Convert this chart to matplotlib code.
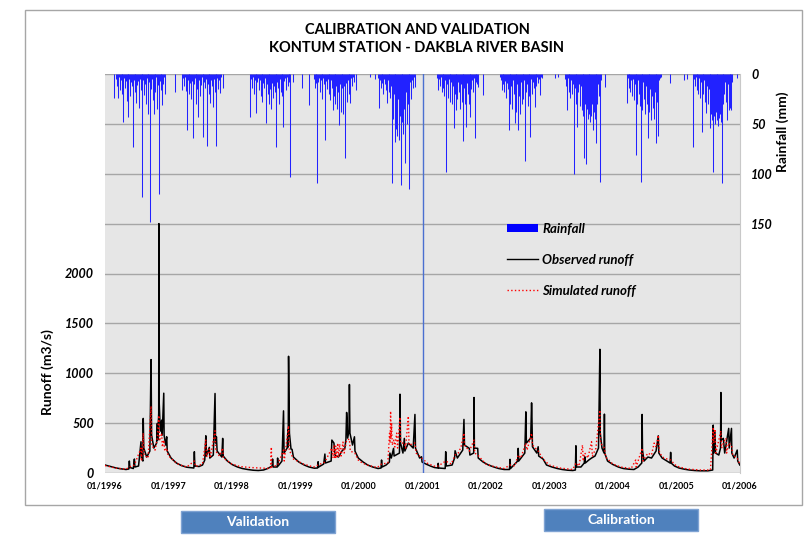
import numpy as np
import matplotlib
matplotlib.use('Agg')
import matplotlib.pyplot as plt
import matplotlib.dates as mdates
from matplotlib.patches import Rectangle
from matplotlib.lines import Line2D

plt.rcParams['font.family'] = ['Lato', 'DejaVu Sans']

# Rainfall (mm), one reading every 5 days starting 30 days after Jan 1 of each year
rain_years = [1996, 1997, 1998, 1999, 2000, 2001, 2002, 2003, 2004, 2005]
rain_1996 = [0, 0, 0, 0, 24, 0, 0, 5, 12, 24, 3, 16, 6, 20, 9, 48,
             4, 14, 7, 27, 10, 43, 5, 22, 8, 12, 73, 6, 18, 4, 29, 11, 7, 34, 5, 16, 9, 123,
             6, 21, 10, 30, 4, 13, 40, 8, 148, 15, 5, 26, 40, 9, 18, 3, 35, 11, 120,
             7, 16, 4, 31, 10, 3, 20, 0, 0]
rain_1997 = [0, 18, 0, 0, 0, 0, 0, 0, 0, 16, 0, 4, 12, 3, 17, 56, 6, 20, 5, 9, 25, 7,
             64, 10, 4, 30, 8, 15, 43, 6, 22, 11, 3, 26, 63, 8, 14, 5, 72, 10, 4, 20, 29, 6,
             12, 33, 5, 18, 72, 9, 4, 15, 6, 19, 3, 0, 0, 14, 0, 0, 0, 0, 0, 0, 0, 0]
rain_1998 = [0, 0, 0, 0, 0, 0, 0, 0, 0, 0, 0, 0, 0, 0, 0, 43, 5, 14, 3, 20, 6, 25,
             39, 8, 4, 16, 6, 22, 5, 28, 9, 14, 4, 49, 10, 20, 30, 7, 15, 35, 9, 24, 12, 18,
             28, 73, 8, 14, 30, 5, 18, 6, 22, 53, 7, 4, 16, 3, 12, 5, 8, 103, 0, 0, 8, 0]
rain_1999 = [0, 14, 0, 0, 0, 0, 0, 0, 0, 31, 0, 0, 0, 0, 0, 5, 14, 3, 9, 109, 8, 4,
             18, 6, 12, 25, 4, 10, 66, 7, 15, 5, 20, 9, 26, 6, 14, 36, 22, 8, 30, 12, 35, 18,
             51, 10, 38, 14, 6, 40, 12, 84, 9, 28, 6, 20, 5, 29, 4, 12, 3, 8, 0, 0, 16, 0]
rain_2000 = [0, 0, 0, 0, 0, 0, 0, 3, 0, 0, 0, 0, 5, 0, 0, 0, 4, 34, 6, 14, 3, 9,
             20, 5, 10, 16, 29, 6, 18, 8, 24, 12, 109, 45, 20, 68, 30, 55, 62, 25, 66, 42, 111, 48,
             20, 60, 35, 89, 18, 50, 30, 115, 22, 8, 25, 6, 14, 3, 13, 0, 0, 0, 0, 0, 0, 0]
rain_2001 = [0, 0, 0, 0, 0, 0, 0, 0, 0, 0, 0, 4, 16, 5, 12, 3, 18, 7, 14, 22, 6, 98,
             10, 24, 5, 18, 28, 8, 30, 12, 54, 20, 6, 36, 25, 8, 18, 35, 10, 28, 6, 67, 14, 30,
             53, 9, 20, 30, 5, 43, 15, 6, 18, 4, 64, 8, 3, 10, 13, 0, 0, 0, 0, 0, 21, 0]
rain_2002 = [0, 0, 0, 0, 0, 0, 0, 0, 0, 0, 3, 6, 16, 10, 4, 18, 7, 24, 9, 15, 56, 8,
             30, 12, 35, 6, 20, 49, 14, 38, 10, 56, 22, 40, 8, 30, 15, 25, 6, 87, 18, 10, 32, 7,
             22, 63, 5, 20, 8, 14, 33, 4, 12, 3, 9, 5, 21, 3, 4, 0, 0, 0, 0, 0, 0, 0]
rain_2003 = [4, 0, 0, 0, 3, 0, 0, 0, 0, 0, 0, 0, 5, 12, 36, 4, 18, 8, 24, 6, 20, 10,
             100, 14, 30, 6, 53, 18, 10, 32, 12, 36, 20, 42, 84, 30, 90, 35, 45, 40, 28, 48, 42, 30,
             56, 38, 45, 20, 69, 30, 10, 22, 108, 6, 0, 0, 0, 0, 13, 0, 0, 0, 0, 0, 0, 0]
rain_2004 = [0, 0, 0, 0, 0, 0, 0, 0, 0, 0, 29, 4, 14, 3, 18, 6, 22, 5, 26, 10, 81, 12,
             30, 6, 20, 32, 108, 14, 36, 8, 25, 40, 12, 30, 64, 20, 38, 15, 46, 22, 34, 45, 18, 69,
             10, 28, 62, 6, 4, 3, 0, 0, 0, 0, 0, 0, 0, 0, 0, 0, 9, 0, 0, 0, 0, 0]
rain_2005 = [0, 0, 6, 0, 0, 0, 5, 0, 0, 0, 0, 0, 0, 73, 5, 12, 3, 16, 6, 20, 4, 24,
             8, 58, 10, 20, 6, 28, 39, 12, 30, 15, 54, 20, 40, 46, 98, 42, 50, 38, 46, 35, 52, 44,
             40, 48, 109, 30, 14, 20, 8, 28, 46, 10, 36, 6, 34, 36, 8, 0, 0, 0, 0, 4, 0, 0]
rain_all = [rain_1996, rain_1997, rain_1998, rain_1999, rain_2000,
            rain_2001, rain_2002, rain_2003, rain_2004, rain_2005]

# Runoff (m3/s) read at key dates
observed = [
    ("1996-01-01", 80), ("1996-02-01", 65), ("1996-03-01", 52), ("1996-04-01", 42), ("1996-05-01", 35),
    ("1996-05-17", 40), ("1996-05-20", 120), ("1996-05-23", 55), ("1996-06-12", 45), ("1996-06-18", 140),
    ("1996-06-21", 60), ("1996-07-12", 70), ("1996-07-26", 313), ("1996-07-29", 150), ("1996-08-06", 120),
    ("1996-08-08", 547), ("1996-08-11", 250), ("1996-08-28", 160), ("1996-09-15", 220), ("1996-09-22", 1137),
    ("1996-09-25", 380), ("1996-10-08", 250), ("1996-10-24", 300), ("1996-10-28", 497), ("1996-10-30", 330),
    ("1996-11-05", 600), ("1996-11-06", 2500), ("1996-11-08", 700), ("1996-11-14", 420), ("1996-11-22", 530),
    ("1996-11-25", 380), ("1996-12-04", 800), ("1996-12-06", 380), ("1996-12-15", 280), ("1996-12-21", 363),
    ("1996-12-24", 220), ("1997-01-15", 150), ("1997-02-15", 100), ("1997-03-15", 75), ("1997-04-15", 58),
    ("1997-05-26", 50), ("1997-05-29", 213), ("1997-06-01", 70), ("1997-06-25", 65), ("1997-07-15", 80),
    ("1997-07-28", 130), ("1997-08-03", 373), ("1997-08-06", 170), ("1997-08-23", 257), ("1997-08-26", 150),
    ("1997-09-15", 180), ("1997-09-25", 797), ("1997-09-28", 300), ("1997-10-03", 363), ("1997-10-07", 220),
    ("1997-11-03", 160), ("1997-11-08", 347), ("1997-11-11", 170), ("1997-12-05", 120), ("1998-01-01", 85),
    ("1998-02-01", 60), ("1998-03-01", 45), ("1998-04-01", 35), ("1998-05-01", 28), ("1998-06-01", 25),
    ("1998-07-01", 30), ("1998-07-25", 45), ("1998-08-20", 70), ("1998-08-22", 140), ("1998-08-25", 60),
    ("1998-09-18", 60), ("1998-09-20", 150), ("1998-09-23", 70), ("1998-10-15", 120), ("1998-10-24", 623),
    ("1998-10-27", 200), ("1998-11-14", 250), ("1998-11-18", 430), ("1998-11-20", 260), ("1998-11-22", 1170),
    ("1998-11-24", 847), ("1998-11-27", 400), ("1998-12-06", 240), ("1998-12-12", 237), ("1998-12-20", 160),
    ("1999-01-20", 110), ("1999-02-20", 80), ("1999-03-20", 60), ("1999-04-20", 48), ("1999-05-08", 50),
    ("1999-05-11", 113), ("1999-05-14", 60), ("1999-06-12", 90), ("1999-06-19", 190), ("1999-06-22", 100),
    ("1999-07-25", 120), ("1999-07-29", 330), ("1999-08-10", 300), ("1999-08-16", 180), ("1999-09-05", 160),
    ("1999-09-25", 220), ("1999-10-12", 250), ("1999-10-18", 340), ("1999-10-22", 607), ("1999-10-25", 530),
    ("1999-10-28", 350), ("1999-11-05", 430), ("1999-11-07", 887), ("1999-11-10", 400), ("1999-11-25", 280),
    ("1999-12-06", 363), ("1999-12-09", 220), ("1999-12-28", 150), ("2000-01-25", 110), ("2000-02-20", 80),
    ("2000-03-20", 60), ("2000-04-20", 45), ("2000-05-07", 50), ("2000-05-10", 130), ("2000-05-13", 60),
    ("2000-06-05", 80), ("2000-06-24", 110), ("2000-06-27", 200), ("2000-07-05", 150), ("2000-07-18", 247),
    ("2000-07-21", 170), ("2000-08-21", 200), ("2000-08-24", 790), ("2000-08-27", 300), ("2000-09-10", 200),
    ("2000-09-18", 347), ("2000-09-21", 220), ("2000-10-11", 300), ("2000-11-08", 250), ("2000-11-18", 587),
    ("2000-11-21", 250), ("2000-12-15", 150), ("2000-12-26", 163), ("2000-12-29", 110), ("2001-01-20", 90),
    ("2001-02-15", 70), ("2001-03-10", 55), ("2001-03-30", 50), ("2001-04-01", 97), ("2001-04-03", 50),
    ("2001-05-11", 45), ("2001-05-14", 213), ("2001-05-17", 70), ("2001-06-20", 80), ("2001-07-04", 150),
    ("2001-07-07", 223), ("2001-07-20", 150), ("2001-08-20", 230), ("2001-08-27", 537), ("2001-08-30", 280),
    ("2001-09-27", 247), ("2001-09-30", 180), ("2001-10-22", 200), ("2001-10-24", 757), ("2001-10-26", 250),
    ("2001-11-14", 247), ("2001-11-17", 150), ("2001-12-15", 110), ("2002-01-15", 80), ("2002-02-15", 60),
    ("2002-03-15", 45), ("2002-04-15", 35), ("2002-05-16", 35), ("2002-05-19", 137), ("2002-05-22", 45),
    ("2002-07-02", 120), ("2002-07-05", 247), ("2002-07-08", 120), ("2002-08-12", 200), ("2002-08-18", 613),
    ("2002-08-21", 300), ("2002-09-15", 350), ("2002-09-20", 703), ("2002-09-22", 570), ("2002-09-25", 263),
    ("2002-10-20", 200), ("2002-10-28", 263), ("2002-10-31", 170), ("2002-11-25", 140), ("2002-12-15", 80),
    ("2003-01-15", 60), ("2003-02-15", 45), ("2003-03-15", 35), ("2003-04-15", 28), ("2003-05-15", 25),
    ("2003-05-30", 30), ("2003-06-02", 273), ("2003-06-05", 60), ("2003-07-01", 60), ("2003-07-20", 100),
    ("2003-07-23", 163), ("2003-07-26", 100), ("2003-08-15", 130), ("2003-08-31", 150), ("2003-09-20", 170),
    ("2003-10-10", 250), ("2003-10-18", 1240), ("2003-10-20", 400), ("2003-10-30", 250), ("2003-11-11", 200),
    ("2003-11-13", 590), ("2003-11-15", 200), ("2003-12-01", 120), ("2004-01-01", 85), ("2004-02-01", 60),
    ("2004-03-01", 45), ("2004-04-01", 38), ("2004-05-01", 35), ("2004-05-25", 60), ("2004-06-15", 100),
    ("2004-06-17", 587), ("2004-06-19", 230), ("2004-06-28", 120), ("2004-07-20", 160), ("2004-08-10", 150),
    ("2004-09-05", 220), ("2004-09-18", 373), ("2004-09-21", 200), ("2004-10-10", 150), ("2004-11-25", 100),
    ("2004-11-28", 207), ("2004-12-01", 100), ("2004-12-20", 70), ("2005-01-15", 50), ("2005-02-15", 38),
    ("2005-03-15", 30), ("2005-04-15", 25), ("2005-05-15", 22), ("2005-07-01", 22), ("2005-07-28", 30),
    ("2005-07-31", 480), ("2005-08-03", 200), ("2005-08-10", 413), ("2005-08-13", 200), ("2005-09-01", 180),
    ("2005-09-11", 250), ("2005-09-13", 807), ("2005-09-15", 330), ("2005-09-27", 347), ("2005-10-05", 200),
    ("2005-10-28", 447), ("2005-10-31", 250), ("2005-11-13", 447), ("2005-11-15", 200), ("2005-11-28", 150),
    ("2005-12-16", 230), ("2005-12-19", 120), ("2005-12-31", 80),
]
simulated = [
    ("1996-01-01", 75), ("1996-03-01", 50), ("1996-05-01", 38), ("1996-05-20", 60), ("1996-06-18", 80),
    ("1996-07-26", 250), ("1996-07-29", 120), ("1996-08-08", 400), ("1996-08-12", 180), ("1996-09-05", 150),
    ("1996-09-22", 670), ("1996-09-25", 280), ("1996-10-15", 230), ("1996-10-28", 350), ("1996-11-06", 577),
    ("1996-11-09", 320), ("1996-11-22", 400), ("1996-11-26", 260), ("1996-12-04", 330), ("1996-12-10", 220),
    ("1996-12-21", 250), ("1996-12-28", 180), ("1997-01-31", 120), ("1997-03-01", 85), ("1997-04-15", 60),
    ("1997-05-29", 120), ("1997-06-05", 65), ("1997-07-15", 90), ("1997-08-03", 330), ("1997-08-07", 160),
    ("1997-08-23", 240), ("1997-08-28", 150), ("1997-09-25", 423), ("1997-09-29", 220), ("1997-10-20", 170),
    ("1997-11-08", 250), ("1997-11-12", 150), ("1997-12-31", 90), ("1998-02-15", 65), ("1998-04-15", 55),
    ("1998-06-15", 50), ("1998-08-10", 45), ("1998-08-15", 260), ("1998-08-17", 60), ("1998-09-20", 80),
    ("1998-10-24", 230), ("1998-10-28", 120), ("1998-11-22", 473), ("1998-11-26", 230), ("1998-12-20", 140),
    ("1999-02-15", 90), ("1999-04-15", 60), ("1999-05-11", 80), ("1999-06-19", 110), ("1999-07-29", 250),
    ("1999-08-05", 150), ("1999-08-10", 280), ("1999-08-15", 140), ("1999-08-20", 270), ("1999-08-25", 150),
    ("1999-09-01", 300), ("1999-09-06", 160), ("1999-09-12", 290), ("1999-09-20", 170), ("1999-10-01", 310),
    ("1999-10-08", 200), ("1999-10-22", 330), ("1999-11-07", 340), ("1999-11-12", 220), ("1999-12-08", 200),
    ("1999-12-31", 120), ("2000-02-15", 80), ("2000-04-15", 55), ("2000-05-10", 90), ("2000-06-15", 100),
    ("2000-06-25", 400), ("2000-06-28", 300), ("2000-07-01", 620), ("2000-07-04", 350), ("2000-07-07", 500),
    ("2000-07-10", 280), ("2000-07-20", 330), ("2000-07-25", 260), ("2000-08-05", 400), ("2000-08-10", 250),
    ("2000-08-24", 560), ("2000-08-28", 300), ("2000-09-18", 300), ("2000-09-25", 250), ("2000-10-11", 570),
    ("2000-10-15", 280), ("2000-11-18", 300), ("2000-11-25", 200), ("2000-12-27", 150), ("2001-01-31", 95),
    ("2001-03-15", 65), ("2001-04-01", 70), ("2001-05-14", 120), ("2001-06-15", 90), ("2001-07-07", 180),
    ("2001-07-25", 200), ("2001-08-10", 260), ("2001-08-27", 400), ("2001-08-30", 280), ("2001-09-27", 220),
    ("2001-10-24", 330), ("2001-10-28", 200), ("2001-11-14", 180), ("2001-12-31", 90), ("2002-02-15", 65),
    ("2002-04-15", 45), ("2002-05-19", 80), ("2002-06-15", 70), ("2002-07-05", 180), ("2002-07-20", 150),
    ("2002-08-18", 300), ("2002-08-25", 230), ("2002-09-20", 400), ("2002-09-25", 280), ("2002-10-28", 220),
    ("2002-11-25", 140), ("2002-12-31", 80), ("2003-03-01", 50), ("2003-05-15", 35), ("2003-06-02", 100),
    ("2003-06-20", 70), ("2003-07-10", 280), ("2003-07-14", 120), ("2003-07-23", 200), ("2003-08-10", 150),
    ("2003-08-31", 313), ("2003-09-05", 170), ("2003-09-25", 247), ("2003-10-18", 630), ("2003-10-22", 300),
    ("2003-11-13", 250), ("2003-11-20", 160), ("2003-12-31", 90), ("2004-02-15", 60), ("2004-04-15", 45),
    ("2004-05-11", 130), ("2004-05-14", 60), ("2004-06-17", 250), ("2004-06-22", 120), ("2004-07-20", 200),
    ("2004-08-10", 180), ("2004-08-25", 300), ("2004-09-05", 260), ("2004-09-18", 380), ("2004-09-25", 200),
    ("2004-10-20", 150), ("2004-11-28", 130), ("2004-12-31", 70), ("2005-03-01", 40), ("2005-05-15", 30),
    ("2005-07-15", 30), ("2005-07-31", 460), ("2005-08-03", 300), ("2005-08-10", 440), ("2005-08-15", 200),
    ("2005-09-13", 420), ("2005-09-17", 250), ("2005-09-27", 300), ("2005-10-12", 350), ("2005-10-16", 200),
    ("2005-10-28", 300), ("2005-11-13", 280), ("2005-11-20", 180), ("2005-12-16", 150), ("2005-12-31", 90),
]

runoff_ticks = [0, 500, 1000, 1500, 2000]
rain_ticks = [0, 50, 100, 150]
year_ticks = list(range(1996, 2007))

W, H = 812, 558
fig = plt.figure(figsize=(W / 100, H / 100), dpi=100)

# outer chart frame
fig.patches.append(Rectangle((25 / W, 1 - 505 / H), 777 / W, 495 / H, transform=fig.transFigure,
                             fill=False, edgecolor='#a6a6a6', linewidth=1))

ax = fig.add_axes([105 / W, 1 - 473 / H, 635 / W, 399 / H])
ax.set_facecolor('#e6e6e6')

obs_x = mdates.date2num(np.array([d for d, v in observed], dtype='datetime64[D]'))
obs_y = [v for d, v in observed]
sim_x = mdates.date2num(np.array([d for d, v in simulated], dtype='datetime64[D]'))
sim_y = [v for d, v in simulated]

ax.plot(obs_x, obs_y, color='black', linewidth=1.1, zorder=3)
ax.plot(sim_x, sim_y, color='red', linewidth=1.0, linestyle=':', zorder=4)

x0 = mdates.date2num(np.datetime64('1996-01-01'))
x1 = mdates.date2num(np.datetime64('2006-01-01'))
ax.set_xlim(x0, x1)
ax.set_ylim(0, 4000)
ax.set_yticks(np.arange(0, 4001, 500))
ax.set_yticklabels([str(v) if v in runoff_ticks else '' for v in range(0, 4001, 500)],
                   fontsize=9, fontweight='bold', fontstyle='italic')
ax.grid(axis='y', color='#a6a6a6', linewidth=1)
ax.set_axisbelow(True)
xt = [mdates.date2num(np.datetime64(f'{y}-01-01')) for y in year_ticks]
ax.set_xticks(xt)
ax.set_xticklabels([f'01/{y}' for y in year_ticks], fontsize=6.5, fontweight='bold')
ax.tick_params(axis='both', length=0)
ax.tick_params(axis='y', pad=8)
ax.tick_params(axis='x', pad=6)
for s in ax.spines.values():
    s.set_visible(False)
ax.spines['right'].set_visible(True)
ax.spines['right'].set_color('#c8c8c8')

# validation / calibration split
ax.axvline(mdates.date2num(np.datetime64('2001-01-01')), color='#4a6fd0', linewidth=1, zorder=5)

ax2 = ax.twinx()
for yr, vals in zip(rain_years, rain_all):
    days = np.datetime64(f'{yr}-01-01') + np.arange(30, 30 + 5 * len(vals), 5).astype('timedelta64[D]')
    vals = np.array(vals)
    keep = vals > 0
    ax2.vlines(mdates.date2num(days[keep]), 0, vals[keep], color='#2222ff', linewidth=0.75)
ax2.set_ylim(400, 0)
ax2.set_xlim(x0, x1)
ax2.set_yticks(rain_ticks)
ax2.set_yticklabels([str(v) for v in rain_ticks], fontsize=9, fontweight='bold', fontstyle='italic')
ax2.tick_params(axis='y', length=0, pad=8)
for s in ax2.spines.values():
    s.set_visible(False)

handles = [Rectangle((0, 0), 1, 1, facecolor='#0000ff', edgecolor='none'),
           Line2D([], [], color='black', linewidth=1.0),
           Line2D([], [], color='red', linewidth=1.0, linestyle=':')]
fig.legend(handles, ['Rainfall', 'Observed runoff', 'Simulated runoff'],
           loc='upper left', bbox_to_anchor=(500 / W, 1 - 216 / H), frameon=False,
           prop={'size': 9.5, 'weight': 'bold', 'style': 'italic'},
           handlelength=2.4, handleheight=0.6, handletextpad=0.3, labelspacing=1.45, borderpad=0)

fig.text(417 / W, 1 - 30 / H, 'CALIBRATION AND VALIDATION', ha='center', va='center',
         fontsize=10.5, fontweight='bold')
fig.text(417 / W, 1 - 48 / H, 'KONTUM STATION - DAKBLA RIVER BASIN', ha='center', va='center',
         fontsize=10.5, fontweight='bold')
fig.text(48 / W, 1 - 372 / H, 'Runoff (m3/s)', rotation=90, ha='center', va='center',
         fontsize=10, fontweight='bold')
fig.text(783 / W, 1 - 132 / H, 'Rainfall (mm)', rotation=90, ha='center', va='center',
         fontsize=10, fontweight='bold')

for label, x_left, y_top in [('Validation', 181, 511), ('Calibration', 544, 509)]:
    fig.patches.append(Rectangle((x_left / W, 1 - (y_top + 22) / H), 154 / W, 22 / H,
                                 transform=fig.transFigure, facecolor='#4f81bd',
                                 edgecolor='#7fa3d3', linewidth=1))
    fig.text((x_left + 77) / W, 1 - (y_top + 11) / H, label, ha='center', va='center',
             color='white', fontsize=10, fontweight='bold')

fig.savefig('out.png', dpi=100)
